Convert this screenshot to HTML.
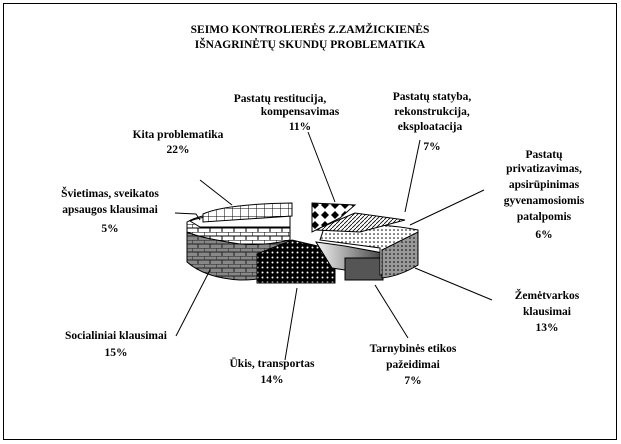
<!DOCTYPE html>
<html><head><meta charset="utf-8"><style>
body{margin:0;background:#fff;width:621px;height:444px;overflow:hidden}
svg{display:block}
text{font-family:"Liberation Serif",serif;font-weight:bold;font-size:11.5px;fill:#000}
</style></head><body>
<svg width="621" height="444" viewBox="0 0 621 444">
<defs>
<pattern id="grid" width="8" height="8" patternUnits="userSpaceOnUse"><rect width="8" height="8" fill="#fff"/><path d="M0 0H8M0 0V8" stroke="#000" stroke-width="1"/></pattern>
<pattern id="brick" width="12" height="8" patternUnits="userSpaceOnUse"><rect width="12" height="8" fill="#fff"/><path d="M0 0H12M0 4H12M0 0V4M6 4V8" stroke="#000"/></pattern>
<pattern id="brickd" width="12" height="8" patternUnits="userSpaceOnUse"><rect width="12" height="8" fill="#888"/><path d="M0 0H12M0 4H12M0 0V4M6 4V8" stroke="#222"/></pattern>
<pattern id="dots" width="5" height="5" patternUnits="userSpaceOnUse"><rect width="5" height="5" fill="#000"/><circle cx="2.5" cy="2.5" r="1" fill="#fff"/></pattern>
<pattern id="ldots" width="4" height="4" patternUnits="userSpaceOnUse"><rect width="4" height="4" fill="#fff"/><circle cx="2" cy="2" r=".8" fill="#000"/></pattern>
<pattern id="ldotsd" width="4" height="4" patternUnits="userSpaceOnUse"><rect width="4" height="4" fill="#999"/><circle cx="2" cy="2" r=".8" fill="#000"/></pattern>
<pattern id="diam" width="10" height="10" patternUnits="userSpaceOnUse"><rect width="10" height="10" fill="#fff"/><path d="M5 1L9 5L5 9L1 5Z" fill="#000"/></pattern>
<pattern id="hatch" width="4" height="4" patternUnits="userSpaceOnUse"><rect width="4" height="4" fill="#fff"/><path d="M0 4L4 0" stroke="#000" stroke-width=".8"/></pattern>
<linearGradient id="gr" x1="0" x2="1"><stop offset="0" stop-color="#f4f4f4"/><stop offset="1" stop-color="#444"/></linearGradient>
</defs>
<rect x="3.5" y="3.5" width="613" height="436" fill="#fff" stroke="#000"/>
<text x="310" y="33" text-anchor="middle">SEIMO KONTROLIERĖS Z.ZAMŽICKIENĖS</text>
<text x="310" y="48" text-anchor="middle">IŠNAGRINĖTŲ SKUNDŲ PROBLEMATIKA</text>

<path d="M187 233 L187 262 Q205 278 240 280 Q270 280 290 270 L290 240 Z" fill="url(#brickd)" stroke="#000"/>
<path d="M187 222 Q200 214 240 210 L290 208 L290 240 Q265 246 240 244 Q200 238 187 232Z" fill="url(#brick)" stroke="#000"/>
<path d="M190 221 Q205 215 245 213 L290 214 L290 227 L200 227 Z" fill="#fff" stroke="#000"/>
<path d="M203 214 Q225 204 292 203 L292 216 L203 222Z" fill="url(#grid)" stroke="#000"/>
<path d="M257 254 L292 240 L335 250 L335 283 L257 283Z" fill="url(#dots)" stroke="#000"/>
<path d="M316 242 L345 246 L383 253 L383 268 L345 270 L332 268Z" fill="url(#gr)" stroke="#000"/>
<rect x="345" y="258" width="38" height="22" fill="#555" stroke="#000"/>
<path d="M325 225 Q380 222 418 230 L418 265 Q400 275 380 275 L380 248 L320 240Z" fill="url(#ldots)" stroke="#000"/>
<path d="M382 250 L418 232 L418 265 Q400 276 382 278Z" fill="url(#ldotsd)" stroke="#000"/>
<path d="M315 230 L355 213 L405 220 L360 232Z" fill="url(#hatch)" stroke="#000"/>
<path d="M312 203 L355 205 L340 218 L312 232Z" fill="url(#diam)" stroke="#000"/>

<g stroke="#000" fill="none" stroke-width="1">
<path d="M200 180 L232 205"/><path d="M175 213 L196 214 L200 220"/>
<path d="M308 132 L335 202"/><path d="M420 140 L405 212"/>
<path d="M484 190 L410 225"/><path d="M492 300 L415 268"/>
<path d="M408 338 L375 285"/><path d="M285 360 L297 288"/>
<path d="M176 336 L210 270"/>
</g>

<text x="178" y="138" text-anchor="middle">Kita problematika</text>
<text x="178" y="153" text-anchor="middle">22%</text>
<text x="280" y="102" text-anchor="middle">Pastatų restitucija,</text>
<text x="300" y="115" text-anchor="middle">kompensavimas</text>
<text x="300" y="130" text-anchor="middle">11%</text>
<text x="432" y="100" text-anchor="middle">Pastatų statyba,</text>
<text x="432" y="115" text-anchor="middle">rekonstrukcija,</text>
<text x="430" y="130" text-anchor="middle">eksploatacija</text>
<text x="432" y="150" text-anchor="middle">7%</text>
<text x="544" y="158" text-anchor="middle">Pastatų</text>
<text x="544" y="172" text-anchor="middle">privatizavimas,</text>
<text x="544" y="188" text-anchor="middle">apsirūpinimas</text>
<text x="544" y="204" text-anchor="middle">gyvenamosiomis</text>
<text x="544" y="220" text-anchor="middle">patalpomis</text>
<text x="544" y="238" text-anchor="middle">6%</text>
<text x="110" y="197" text-anchor="middle">Švietimas, sveikatos</text>
<text x="110" y="213" text-anchor="middle">apsaugos klausimai</text>
<text x="110" y="232" text-anchor="middle">5%</text>
<text x="547" y="299" text-anchor="middle">Žemėtvarkos</text>
<text x="547" y="315" text-anchor="middle">klausimai</text>
<text x="547" y="331" text-anchor="middle">13%</text>
<text x="116" y="339" text-anchor="middle">Socialiniai klausimai</text>
<text x="116" y="356" text-anchor="middle">15%</text>
<text x="272" y="367" text-anchor="middle">Ūkis, transportas</text>
<text x="272" y="383" text-anchor="middle">14%</text>
<text x="413" y="352" text-anchor="middle">Tarnybinės etikos</text>
<text x="413" y="368" text-anchor="middle">pažeidimai</text>
<text x="413" y="384" text-anchor="middle">7%</text>
</svg>
</body></html>
